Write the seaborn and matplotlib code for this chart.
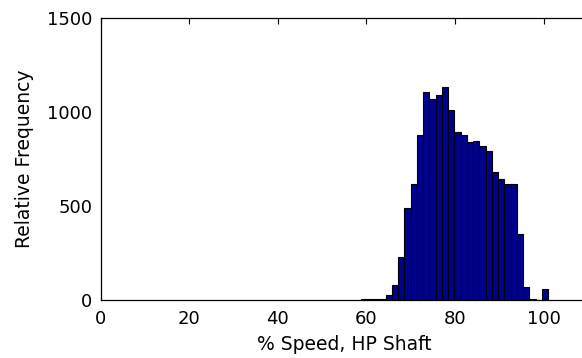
import numpy as np
import pandas as pd
import matplotlib
matplotlib.use("Agg")
import matplotlib.pyplot as plt
import seaborn as sns

# ---- data ----
bin_start = 58.74          # left edge of first bin (% speed)
bin_width = 1.411          # bin width (% speed)
counts = [3, 4, 3, 5,
          27, 80, 229, 492, 616, 879, 1106, 1070, 1088, 1131, 1012,
          896, 879, 838, 845, 820, 790, 683, 644, 618, 618, 350, 69,
          4, 2, 57]
x_ticks = [0, 20, 40, 60, 80, 100]
y_ticks = [0, 500, 1000, 1500]
x_label = "% Speed, HP Shaft"
y_label = "Relative Frequency"

edges = [float(bin_start + bin_width * i) for i in range(len(counts) + 1)]
centers = [(edges[i] + edges[i + 1]) / 2 for i in range(len(counts))]
df = pd.DataFrame({"speed": centers, "count": [float(c) for c in counts]})

sns.set_style("white")
plt.rcParams["font.family"] = ["DejaVu Sans"]
plt.rcParams["text.color"] = "black"
plt.rcParams["axes.labelcolor"] = "black"

fig = plt.figure(figsize=(5.82, 3.58), dpi=100)
ax = fig.add_axes([100.5 / 582, 58 / 358, 487.3 / 582, 282 / 358])

sns.histplot(data=df, x="speed", weights="count", bins=edges,
             color="#00008f", edgecolor="black", linewidth=0.8,
             alpha=1.0, ax=ax)

ax.set_xlim(0, 110)
ax.set_ylim(0, 1500)
ax.set_xticks(x_ticks)
ax.set_yticks(y_ticks)
ax.tick_params(axis="both", direction="in", length=4, width=0.8,
               top=True, right=True, labelsize=13, colors="black")
ax.tick_params(axis="y", pad=6)
ax.tick_params(axis="x", pad=7)
ax.set_xlabel(x_label, fontsize=13.5, labelpad=5, color="black")
ax.set_ylabel(y_label, fontsize=13.5, labelpad=9, color="black")
for s in ax.spines.values():
    s.set_visible(True)
    s.set_color("black")
    s.set_linewidth(0.9)

fig.savefig("out.png", dpi=100)
